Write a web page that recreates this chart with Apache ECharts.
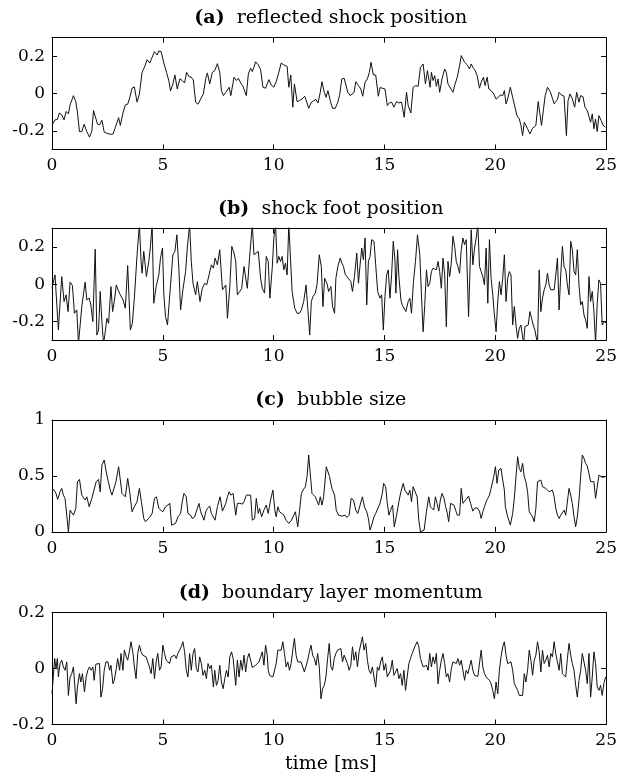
<!DOCTYPE html>
<html><head><meta charset="utf-8">
<script src="https://cdn.jsdelivr.net/npm/echarts@6/dist/echarts.min.js"></script>
<style>html,body{margin:0;padding:0;background:#fff}#c{width:620px;height:781px}</style>
</head><body><div id="c"></div>
<script>
const timeTicks = [0, 5, 10, 15, 20, 25];
const panelLabels = ['(a)', '(b)', '(c)', '(d)'];
const panelNames = ['reflected shock position', 'shock foot position', 'bubble size', 'boundary layer momentum'];
const xAxisName = 'time [ms]';
const yTicksA = [-0.2, 0, 0.2];
const yTicksB = [-0.2, 0, 0.2];
const yTicksC = [0, 0.5, 1];
const yTicksD = [-0.2, 0, 0.2];
const yRanges = [[-0.3, 0.3], [-0.3, 0.3], [0, 1], [-0.2, 0.2]];

const shockPosition = [[0,-0.168],[0.136,-0.141],[0.242,-0.139],[0.332,-0.104],[0.438,-0.114],[0.544,-0.141],[0.634,-0.096],[0.740,-0.109],[0.816,-0.061],[0.967,-0.011],[1.073,-0.043],[1.148,-0.100],[1.239,-0.204],[1.344,-0.204],[1.450,-0.164],[1.571,-0.204],[1.692,-0.234],[1.798,-0.200],[1.873,-0.091],[1.949,-0.091],[2.054,-0.164],[2.145,-0.168],[2.251,-0.143],[2.356,-0.207],[2.477,-0.213],[2.628,-0.218],[2.749,-0.218],[2.855,-0.182],[3.006,-0.129],[3.082,-0.171],[3.202,-0.104],[3.308,-0.061],[3.414,-0.057],[3.505,-0.023],[3.610,0.029],[3.716,0.036],[3.837,-0.046],[3.943,-0.002],[4.063,0.114],[4.169,0.141],[4.290,0.182],[4.411,0.164],[4.517,0.195],[4.622,0.225],[4.743,0.207],[4.819,0.229],[4.924,0.225],[5.045,0.164],[5.166,0.114],[5.272,0.068],[5.347,0.014],[5.453,0.052],[5.544,0.100],[5.650,0.025],[5.770,0.079],[5.876,0.070],[5.982,0.057],[6.073,0.114],[6.178,0.091],[6.284,0.088],[6.375,0.073],[6.480,-0.046],[6.586,-0.057],[6.707,-0.029],[6.828,-0.002],[6.934,0.079],[7.009,0.111],[7.115,0.052],[7.236,0.114],[7.341,0.123],[7.462,0.161],[7.568,0.114],[7.644,0.016],[7.734,-0.011],[7.840,0.007],[7.915,0.014],[7.991,0.034],[8.066,-0.011],[8.172,0.061],
[8.213,0.088],[8.318,0.070],[8.408,0.082],[8.513,0.057],[8.617,0.039],[8.707,0.043],[8.767,-0.011],[8.857,0.105],[8.961,0.136],[9.036,0.118],[9.111,0.141],[9.186,0.171],[9.306,0.154],[9.410,0.129],[9.515,0.034],[9.635,0.029],[9.710,0.052],[9.784,0.075],[9.889,0.046],[10.009,0.034],[10.113,0.064],[10.233,0.114],[10.338,0.164],[10.458,0.154],[10.607,0.146],[10.682,0.034],[10.772,0.100],[10.862,-0.073],[10.936,0.052],[11.056,-0.043],[11.161,-0.038],[11.280,-0.029],[11.400,-0.014],[11.505,-0.050],[11.580,-0.079],[11.684,-0.050],[11.804,-0.038],[11.909,-0.032],[11.999,-0.050],[12.103,0.007],[12.178,0.064],[12.283,0.007],[12.358,-0.020],[12.447,0.016],[12.552,-0.038],[12.657,-0.079],[12.777,-0.079],[12.881,-0.050],[12.971,-0.011],[13.076,0.079],[13.180,0.082],[13.255,0.082],[13.345,0.007],[13.450,-0.011],[13.525,-0.002],[13.629,0.007],[13.704,0.064],[13.824,0.043],[13.929,0.025],[14.018,-0.014],[14.123,0.061],[14.228,0.079],[14.317,0.114],[14.392,0.168],[14.497,0.100],[14.602,0.100],[14.721,-0.014],[14.796,0.032],[14.901,0.029],[15.021,0.025],[15.126,-0.064],[15.215,-0.050],[15.320,-0.046],[15.425,-0.073],[15.544,-0.043],[15.649,-0.050],[15.769,-0.046],[15.888,-0.127],[15.993,0.007],[16.068,-0.064],[16.188,-0.104],[16.292,0.034],[16.397,0.043],[16.517,0.039],[16.622,0.141],[16.741,0.159],
[16.846,0.052],[16.936,0.123],[17.056,0.034],[17.115,0.114],[17.190,0.070],[17.265,0.096],[17.340,0.039],[17.415,0.079],[17.489,0.007],[17.594,0.079],[17.714,0.132],[17.789,0.114],[17.863,0.052],[17.938,0.057],[18.088,0.007],[18.163,0.043],[18.282,0.088],[18.387,0.150],[18.462,0.204],[18.537,0.207],[18.612,0.168],[18.731,0.154],[18.836,0.132],[18.911,0.159],[18.986,0.141],[19.090,0.123],[19.180,0.096],[19.285,0.029],[19.360,0.061],[19.464,0.088],[19.539,0.043],[19.629,0.088],[19.704,0.025],[19.808,0.016],[19.928,-0.002],[20.033,-0.029],[20.138,-0.020],[20.227,-0.007],[20.332,-0.011],[20.407,0.016],[20.482,-0.055],[20.556,-0.029],[20.676,0.034],[20.781,-0.020],[20.886,-0.073],[20.975,-0.118],[21.080,-0.136],[21.155,-0.171],[21.230,-0.225],[21.305,-0.154],[21.379,-0.171],[21.454,-0.189],[21.559,-0.216],[21.679,-0.186],[21.754,-0.189],[21.828,-0.171],[21.933,-0.043],[22.083,-0.171],[22.173,-0.082],[22.247,-0.011],[22.352,0.034],[22.472,0.011],[22.576,-0.025],[22.651,-0.055],[22.726,-0.064],[22.801,-0.032],[22.876,0.007],[22.980,-0.007],[23.100,-0.014],[23.205,-0.225],[23.280,-0.038],[23.369,-0.002],[23.474,-0.029],[23.579,-0.073],[23.668,0.007],[23.773,-0.046],[23.848,-0.011],[23.953,-0.016],[24.043,-0.073],[24.147,-0.091],[24.222,-0.086],[24.297,-0.154],[24.372,-0.109],[24.447,-0.189],[24.521,-0.136],[24.596,-0.204],[24.671,-0.118],[24.776,-0.145],[24.865,-0.171],[24.970,-0.180]];

const shockFoot = [[0,-0.022],[0.136,0.050],[0.287,-0.246],[0.438,0.041],[0.544,-0.093],[0.634,-0.057],[0.725,-0.147],[0.816,0.011],[0.921,-0.007],[1.012,-0.156],[1.118,-0.138],[1.193,-0.32],[1.269,-0.32],[1.344,-0.120],[1.495,0.011],[1.571,-0.084],[1.677,-0.075],[1.752,-0.111],[1.843,-0.201],[1.949,0.188],[2.024,-0.273],[2.100,-0.246],[2.175,-0.039],[2.251,-0.201],[2.326,-0.32],[2.402,-0.255],[2.477,-0.183],[2.553,-0.210],[2.659,-0.013],[2.734,-0.147],[2.810,-0.093],[2.900,-0.004],[2.976,-0.030],[3.082,-0.057],[3.202,-0.084],[3.308,-0.129],[3.414,0.100],[3.535,-0.246],[3.625,-0.210],[3.716,-0.075],[3.837,0.158],[3.943,0.32],[4.018,0.122],[4.063,0.059],[4.139,0.176],[4.260,0.041],[4.366,0.122],[4.441,0.203],[4.517,0.32],[4.592,-0.102],[4.698,-0.013],[4.819,0.050],[4.894,0.140],[4.985,0.194],[5.045,-0.057],[5.121,-0.174],[5.211,-0.219],[5.347,-0.004],[5.453,0.158],[5.544,0.176],[5.634,0.265],[5.725,0.077],[5.801,-0.138],[5.906,-0.030],[6.027,0.068],[6.103,0.194],[6.208,0.32],[6.284,0.122],[6.360,0.005],[6.480,-0.057],[6.556,0.014],[6.677,-0.093],[6.782,-0.022],[6.888,0.005],[6.979,-0.004],[7.085,0.050],[7.190,0.104],[7.281,0.086],[7.356,0.140],[7.462,0.104],[7.568,0.185],[7.689,-0.030],[7.764,-0.022],[7.840,-0.004],[7.915,-0.183],[8.021,-0.013],[8.112,0.203],
[8.213,0.167],[8.288,0.122],[8.363,-0.057],[8.468,-0.039],[8.558,-0.022],[8.662,0.095],[8.737,0.104],[8.812,-0.022],[8.917,0.149],[9.036,0.32],[9.111,0.158],[9.186,0.167],[9.306,0.176],[9.410,0.032],[9.485,-0.022],[9.590,-0.048],[9.665,0.149],[9.754,0.122],[9.829,-0.075],[9.934,0.086],[10.009,0.248],[10.084,0.32],[10.158,0.113],[10.233,0.149],[10.308,0.122],[10.383,0.149],[10.458,0.077],[10.532,0.113],[10.607,0.050],[10.682,0.32],[10.757,0.140],[10.832,-0.039],[10.951,-0.129],[11.056,-0.156],[11.161,-0.156],[11.251,-0.138],[11.355,-0.093],[11.460,-0.004],[11.550,-0.147],[11.625,-0.273],[11.699,-0.093],[11.774,-0.066],[11.879,-0.048],[11.954,-0.004],[12.058,0.158],[12.148,0.095],[12.223,-0.120],[12.298,0.032],[12.403,0.005],[12.478,-0.039],[12.582,-0.013],[12.657,-0.120],[12.747,-0.156],[12.806,0.032],[12.896,0.095],[13.001,0.140],[13.076,0.113],[13.150,0.095],[13.225,0.054],[13.300,0.041],[13.480,0.014],[13.555,-0.039],[13.644,0.041],[13.749,0.167],[13.824,0.005],[13.899,0.104],[13.973,0.194],[14.048,0.131],[14.123,0.248],[14.198,-0.111],[14.273,0.122],[14.348,0.149],[14.422,0.239],[14.527,0.230],[14.602,0.104],[14.691,-0.039],[14.796,-0.075],[14.871,-0.057],[14.946,-0.246],[15.021,-0.066],[15.096,0.050],[15.170,0.077],[15.245,-0.075],[15.320,0.050],[15.395,0.230],[15.470,0.131],[15.514,-0.048],[15.589,0.185],[15.649,0.041],[15.739,-0.084],[15.799,-0.111],[15.888,-0.102],[15.963,-0.147],[16.068,-0.093],[16.143,-0.075],[16.218,-0.156],[16.307,0.014],[16.397,0.122],[16.487,0.265],[16.592,0.158],
[16.667,-0.057],[16.741,-0.255],[16.816,-0.111],[16.891,0.077],[16.966,-0.013],[17.041,0.005],[17.115,0.068],[17.190,0.086],[17.265,0.083],[17.340,0.077],[17.415,0.122],[17.489,0.068],[17.564,-0.022],[17.639,0.140],[17.714,0.050],[17.789,-0.228],[17.863,0.122],[17.938,0.041],[18.013,0.113],[18.088,0.257],[18.163,0.203],[18.238,0.122],[18.312,0.095],[18.387,0.059],[18.462,0.185],[18.537,0.248],[18.612,0.212],[18.686,0.239],[18.791,-0.174],[18.911,0.292],[18.986,0.104],[19.060,0.194],[19.135,0.248],[19.210,0.32],[19.285,0.095],[19.360,0.068],[19.434,0.041],[19.509,-0.004],[19.584,0.194],[19.659,-0.102],[19.734,0.239],[19.808,0.032],[19.883,-0.057],[19.958,-0.165],[20.033,-0.255],[20.108,-0.093],[20.183,0.014],[20.257,-0.057],[20.332,0.032],[20.407,0.158],[20.482,-0.093],[20.556,0.032],[20.631,0.068],[20.706,0.050],[20.781,-0.219],[20.856,-0.120],[20.931,-0.219],[21.005,-0.291],[21.080,-0.237],[21.155,-0.219],[21.275,-0.32],[21.334,-0.228],[21.409,-0.237],[21.484,-0.219],[21.559,-0.147],[21.634,-0.183],[21.708,-0.219],[21.783,-0.246],[21.903,-0.32],[21.978,0.077],[22.053,-0.147],[22.127,-0.075],[22.202,-0.030],[22.277,-0.004],[22.352,0.059],[22.427,-0.004],[22.501,-0.030],[22.576,-0.039],[22.651,-0.030],[22.726,0.050],[22.801,0.140],[22.876,-0.138],[22.950,0.050],[23.025,0.203],[23.100,0.095],[23.175,0.077],[23.250,-0.004],[23.324,-0.057],[23.399,0.230],[23.474,0.185],[23.549,0.068],[23.624,0.050],[23.698,0.185],[23.773,-0.004],[23.848,-0.111],[23.923,-0.093],[23.998,-0.165],[24.072,-0.192],[24.147,-0.237],[24.222,0.041],[24.297,-0.093],[24.372,-0.039],[24.447,-0.147],[24.521,-0.32],[24.596,-0.102],[24.671,0.023],[24.746,0.005],[24.821,-0.219],[24.925,-0.201],[25.0,-0.210]];

const bubbleSize = [[0,0.388],[0.091,0.373],[0.181,0.343],[0.257,0.290],[0.363,0.358],[0.438,0.388],[0.514,0.328],[0.589,0.299],[0.665,0.299],[0.740,0.000],[0.816,0.194],[0.967,0.149],[1.073,0.209],[1.148,0.448],[1.239,0.469],[1.344,0.328],[1.420,0.313],[1.495,0.284],[1.571,0.313],[1.677,0.224],[1.798,0.299],[1.873,0.358],[1.994,0.448],[2.100,0.469],[2.175,0.358],[2.251,0.597],[2.356,0.642],[2.432,0.552],[2.523,0.463],[2.628,0.373],[2.704,0.328],[2.779,0.313],[2.885,0.448],[3.006,0.582],[3.082,0.463],[3.157,0.343],[3.233,0.328],[3.308,0.313],[3.414,0.478],[3.505,0.358],[3.610,0.179],[3.716,0.224],[3.837,0.269],[3.943,0.388],[4.033,0.269],[4.139,0.119],[4.215,0.090],[4.290,0.104],[4.396,0.128],[4.517,0.164],[4.622,0.299],[4.713,0.313],[4.819,0.209],[4.894,0.224],[5.000,0.179],[5.121,0.224],[5.196,0.239],[5.317,0.254],[5.393,0.060],[5.468,0.075],[5.574,0.075],[5.680,0.134],[5.801,0.164],[5.876,0.269],[5.952,0.343],[6.057,0.313],[6.133,0.164],[6.254,0.149],[6.329,0.119],[6.435,0.134],[6.556,0.209],[6.631,0.254],[6.707,0.179],[6.858,0.104],[6.934,0.179],[7.009,0.209],[7.115,0.230],[7.190,0.164],[7.356,0.104],[7.462,0.224],[7.583,0.313],[7.689,0.185],[7.840,0.254],[7.915,0.313],[7.991,0.358],[8.066,0.328],[8.172,0.343],
[8.213,0.269],[8.288,0.149],[8.363,0.254],[8.468,0.254],[8.587,0.248],[8.662,0.269],[8.767,0.328],[8.857,0.343],[8.961,0.328],[9.036,0.104],[9.141,0.119],[9.216,0.299],[9.306,0.164],[9.365,0.209],[9.455,0.134],[9.560,0.194],[9.665,0.239],[9.754,0.164],[9.859,0.284],[9.964,0.373],[10.053,0.194],[10.113,0.134],[10.188,0.224],[10.263,0.179],[10.353,0.164],[10.458,0.149],[10.562,0.104],[10.682,0.075],[10.802,0.104],[10.906,0.149],[10.981,0.179],[11.086,0.045],[11.161,0.179],[11.251,0.343],[11.325,0.373],[11.430,0.403],[11.505,0.493],[11.580,0.687],[11.655,0.507],[11.729,0.343],[11.804,0.343],[11.879,0.313],[11.954,0.299],[12.029,0.239],[12.103,0.313],[12.178,0.239],[12.253,0.313],[12.373,0.582],[12.447,0.567],[12.522,0.493],[12.627,0.388],[12.747,0.328],[12.822,0.194],[12.926,0.149],[13.001,0.149],[13.076,0.140],[13.225,0.149],[13.300,0.128],[13.405,0.149],[13.495,0.299],[13.599,0.284],[13.704,0.194],[13.794,0.164],[13.899,0.239],[14.003,0.313],[14.093,0.224],[14.198,0.179],[14.273,0.119],[14.348,0.015],[14.422,0.060],[14.527,0.134],[14.602,0.164],[14.691,0.179],[14.796,0.254],[14.901,0.343],[14.961,0.433],[15.051,0.403],[15.126,0.254],[15.200,0.149],[15.275,0.194],[15.365,0.239],[15.440,0.045],[15.544,0.149],[15.649,0.269],[15.739,0.358],[15.843,0.433],[15.918,0.373],[15.993,0.373],[16.068,0.328],[16.143,0.373],[16.218,0.269],[16.292,0.403],[16.367,0.388],[16.472,0.313],[16.547,0.104],[16.622,0.000],
[16.697,0.000],[16.786,0.015],[16.891,0.179],[16.996,0.313],[17.071,0.224],[17.145,0.209],[17.220,0.194],[17.295,0.313],[17.370,0.254],[17.445,0.185],[17.519,0.284],[17.594,0.343],[17.684,0.299],[17.759,0.224],[17.834,0.164],[17.893,0.090],[17.983,0.254],[18.058,0.254],[18.133,0.239],[18.208,0.194],[18.282,0.149],[18.387,0.149],[18.462,0.388],[18.537,0.254],[18.612,0.269],[18.716,0.299],[18.791,0.319],[18.881,0.254],[18.986,0.185],[19.060,0.209],[19.180,0.215],[19.285,0.185],[19.360,0.119],[19.434,0.179],[19.509,0.224],[19.584,0.269],[19.659,0.299],[19.734,0.328],[19.808,0.388],[19.928,0.493],[20.003,0.582],[20.078,0.433],[20.153,0.552],[20.257,0.567],[20.332,0.463],[20.407,0.373],[20.452,0.224],[20.556,0.134],[20.676,0.060],[20.781,0.164],[20.856,0.299],[20.931,0.493],[21.005,0.672],[21.080,0.567],[21.155,0.537],[21.230,0.612],[21.305,0.493],[21.379,0.448],[21.454,0.358],[21.529,0.179],[21.604,0.179],[21.679,0.134],[21.754,0.090],[21.828,0.209],[21.903,0.448],[21.978,0.433],[22.053,0.463],[22.127,0.403],[22.202,0.409],[22.277,0.388],[22.352,0.379],[22.427,0.358],[22.501,0.343],[22.576,0.373],[22.651,0.313],[22.726,0.209],[22.801,0.149],[22.876,0.119],[22.950,0.149],[23.025,0.164],[23.100,0.194],[23.175,0.149],[23.250,0.134],[23.324,0.388],[23.399,0.328],[23.474,0.254],[23.549,0.134],[23.624,0.045],[23.698,0.134],[23.773,0.284],[23.848,0.493],[23.923,0.687],[23.998,0.657],[24.072,0.612],[24.147,0.588],[24.222,0.522],[24.297,0.448],[24.372,0.433],[24.447,0.448],[24.521,0.299],[24.596,0.313],[24.671,0.507],[24.746,0.493],[24.821,0.487],[24.970,0.493]];

const boundaryMomentum = [[0,-0.090],[0.121,0.036],[0.181,0.000],[0.242,0.036],[0.287,-0.030],[0.363,0.018],[0.438,0.030],[0.514,0.006],[0.589,-0.006],[0.665,0.024],[0.740,-0.096],[0.816,-0.030],[0.891,-0.018],[0.967,0.006],[1.088,-0.126],[1.148,-0.066],[1.239,-0.018],[1.299,-0.048],[1.375,-0.018],[1.465,-0.084],[1.541,-0.030],[1.616,-0.006],[1.692,0.006],[1.767,-0.006],[1.843,0.006],[1.903,-0.042],[1.979,0.016],[2.054,0.020],[2.145,0.018],[2.205,-0.102],[2.281,-0.072],[2.356,-0.006],[2.432,0.024],[2.523,0.024],[2.598,-0.006],[2.659,0.012],[2.749,-0.054],[2.810,-0.042],[2.900,0.000],[2.961,0.036],[3.051,-0.006],[3.112,0.054],[3.202,-0.006],[3.263,0.066],[3.353,0.042],[3.414,0.030],[3.489,0.060],[3.565,0.096],[3.656,0.054],[3.716,0.006],[3.792,-0.036],[3.867,0.054],[3.943,0.084],[4.018,0.060],[4.094,0.048],[4.169,0.054],[4.245,0.042],[4.320,0.024],[4.396,0.006],[4.471,-0.018],[4.547,0.036],[4.622,-0.036],[4.698,0.024],[4.773,0.054],[4.849,-0.006],[4.924,0.006],[5.000,0.084],[5.076,0.054],[5.151,0.030],[5.227,0.036],[5.302,0.018],[5.378,0.042],[5.453,0.040],[5.529,0.048],[5.604,0.036],[5.680,0.054],[5.755,0.066],[5.831,0.078],[5.906,0.096],[5.982,0.060],[6.057,-0.006],[6.133,-0.030],[6.208,0.054],[6.284,-0.006],[6.360,0.054],[6.435,0.072],[6.511,0.000],[6.586,-0.012],[6.662,0.042],[6.737,0.018],[6.813,-0.024],[6.888,-0.006],[6.964,-0.036],[7.039,0.018],[7.115,0.000],[7.190,0.012],[7.281,-0.066],[7.341,-0.006],[7.417,-0.060],[7.492,-0.042],[7.568,0.012],[7.644,-0.048],[7.719,-0.072],[7.795,-0.036],[7.870,-0.006],[7.946,-0.030],[8.021,0.042],[8.097,0.060],[8.172,0.036],
[8.288,-0.060],[8.363,0.030],[8.438,-0.030],[8.513,0.030],[8.587,-0.006],[8.662,0.048],[8.737,-0.012],[8.812,0.036],[8.887,0.054],[8.961,0.054],[9.036,0.004],[9.111,0.006],[9.186,0.012],[9.261,0.018],[9.336,0.024],[9.410,0.042],[9.485,0.060],[9.560,0.012],[9.635,0.084],[9.710,0.048],[9.754,-0.006],[9.814,-0.024],[9.889,-0.030],[9.964,-0.030],[10.039,-0.024],[10.113,0.018],[10.188,0.066],[10.263,0.072],[10.338,0.066],[10.413,0.096],[10.488,0.054],[10.562,0.006],[10.637,0.024],[10.712,-0.006],[10.787,0.018],[10.862,0.066],[10.936,0.108],[11.011,0.048],[11.086,0.024],[11.161,0.030],[11.236,0.024],[11.310,0.020],[11.385,-0.012],[11.460,-0.018],[11.535,0.030],[11.610,0.060],[11.684,0.084],[11.759,0.048],[11.834,0.036],[11.909,0.012],[11.984,0.054],[12.058,0.006],[12.133,-0.108],[12.208,-0.072],[12.283,-0.060],[12.358,-0.030],[12.433,0.036],[12.507,0.090],[12.582,0.006],[12.657,-0.006],[12.732,0.036],[12.806,0.054],[12.881,0.066],[12.956,0.072],[13.031,0.072],[13.106,0.024],[13.180,0.048],[13.255,0.054],[13.330,0.018],[13.405,-0.006],[13.480,0.012],[13.555,0.078],[13.629,0.030],[13.704,0.060],[13.779,0.006],[13.854,0.060],[13.929,0.054],[14.003,0.114],[14.078,0.066],[14.153,0.090],[14.228,0.030],[14.303,-0.006],[14.377,-0.018],[14.452,0.006],[14.527,-0.030],[14.602,-0.066],[14.677,0.006],[14.751,-0.006],[14.826,0.024],[14.901,0.042],[14.976,-0.006],[15.051,0.018],[15.126,-0.030],[15.200,-0.036],[15.275,-0.006],[15.350,0.030],[15.425,-0.024],[15.500,-0.030],[15.574,0.000],[15.649,-0.036],[15.724,-0.018],[15.799,-0.060],[15.874,-0.006],[15.948,-0.078],[16.023,-0.030],[16.098,0.018],[16.173,0.036],[16.248,0.054],[16.322,0.054],[16.397,0.084],[16.472,0.096],[16.547,0.078],[16.622,0.036],[16.697,0.042],
[16.741,0.006],[16.816,0.000],[16.891,0.012],[16.966,-0.006],[17.041,0.054],[17.115,0.006],[17.190,0.042],[17.265,0.018],[17.340,0.054],[17.415,-0.054],[17.489,-0.006],[17.564,0.030],[17.639,0.054],[17.714,0.018],[17.789,-0.030],[17.863,-0.018],[17.938,-0.048],[18.013,0.000],[18.088,0.024],[18.163,0.030],[18.238,0.018],[18.312,0.036],[18.387,0.012],[18.462,0.030],[18.537,-0.006],[18.612,-0.042],[18.686,-0.006],[18.761,-0.018],[18.836,0.006],[18.911,0.030],[18.986,-0.006],[19.060,-0.024],[19.135,-0.030],[19.210,-0.028],[19.285,-0.024],[19.360,0.066],[19.434,0.006],[19.509,-0.018],[19.584,-0.030],[19.659,-0.036],[19.734,-0.042],[19.808,-0.054],[19.883,-0.078],[19.958,-0.108],[20.033,-0.048],[20.108,-0.090],[20.183,-0.006],[20.257,0.042],[20.332,0.078],[20.407,0.096],[20.482,0.048],[20.556,0.018],[20.631,0.012],[20.706,0.024],[20.781,-0.006],[20.856,-0.054],[20.931,-0.060],[21.005,-0.078],[21.080,-0.096],[21.155,-0.102],[21.230,-0.096],[21.305,-0.018],[21.379,-0.048],[21.454,-0.006],[21.529,0.066],[21.604,0.030],[21.679,-0.024],[21.754,0.030],[21.828,0.048],[21.903,0.096],[21.978,0.060],[22.053,-0.012],[22.127,0.066],[22.202,0.018],[22.277,0.030],[22.352,0.048],[22.427,0.006],[22.501,0.054],[22.576,0.042],[22.651,0.096],[22.726,0.054],[22.801,0.024],[22.876,-0.006],[22.950,0.054],[23.025,-0.018],[23.100,-0.012],[23.175,-0.030],[23.250,0.036],[23.324,0.090],[23.399,0.048],[23.474,0.018],[23.549,-0.006],[23.624,-0.060],[23.698,-0.102],[23.773,-0.042],[23.848,-0.006],[23.923,0.054],[23.998,0.024],[24.072,-0.006],[24.147,-0.054],[24.222,0.054],[24.297,-0.102],[24.372,-0.030],[24.447,0.060],[24.521,0.018],[24.596,-0.066],[24.671,-0.078],[24.746,-0.060],[24.821,-0.096],[24.896,-0.054],[24.970,-0.030]];

const seriesData = [shockPosition, shockFoot, bubbleSize, boundaryMomentum];
const yTickSets = [yTicksA, yTicksB, yTicksC, yTicksD];

const FONT = 'DejaVu Serif';
const gridTops = [37.7, 228.3, 420, 612.7];
const gridH = 111.8, gridL = 52, gridW = 557.5;

const grids = [], xAxes = [], yAxes = [], series = [], graphics = [];
for (let i = 0; i < 4; i++) {
  grids.push({ left: gridL, top: gridTops[i], width: gridW, height: gridH, containLabel: false });
  const xBase = {
    gridIndex: i, type: 'value', min: timeTicks[0], max: timeTicks[timeTicks.length - 1],
    interval: timeTicks[1] - timeTicks[0],
    axisLine: { show: true, onZero: false, lineStyle: { color: '#000', width: 1 } },
    axisTick: { show: true, inside: true, length: 5, lineStyle: { color: '#000', width: 1 } },
    splitLine: { show: false }
  };
  xAxes.push(Object.assign({}, xBase, { position: 'bottom',
    axisLabel: { show: true, color: '#000', fontFamily: FONT, fontSize: 17, margin: 8 } }));
  xAxes.push(Object.assign({}, xBase, { position: 'top', axisLabel: { show: false } }));
  const ticks = yTickSets[i];
  const yBase = {
    gridIndex: i, type: 'value', min: yRanges[i][0], max: yRanges[i][1],
    axisLine: { show: true, onZero: false, lineStyle: { color: '#000', width: 1 } },
    axisTick: { show: true, inside: true, length: 5, customValues: ticks, lineStyle: { color: '#000', width: 1 } },
    splitLine: { show: false }
  };
  yAxes.push(Object.assign({}, yBase, { position: 'left',
    axisLabel: { show: true, customValues: ticks, color: '#000', fontFamily: FONT, fontSize: 17, margin: 7 } }));
  yAxes.push(Object.assign({}, yBase, { position: 'right', axisLabel: { show: false } }));
  series.push({
    type: 'line', xAxisIndex: 2 * i, yAxisIndex: 2 * i, data: seriesData[i],
    showSymbol: false, symbol: 'none', clip: true, animation: false,
    lineStyle: { color: '#111', width: 1 }
  });
  graphics.push({
    type: 'text', x: gridL + gridW / 2, y: gridTops[i] - 19.5,
    style: {
      text: '{b|' + panelLabels[i] + '}  ' + panelNames[i],
      rich: { b: { fontWeight: 'bold', fontFamily: FONT, fontSize: 19, fill: '#000' } },
      fontFamily: FONT, fontSize: 19, fill: '#000', align: 'center', verticalAlign: 'middle'
    }
  });
}
graphics.push({
  type: 'text', x: gridL + gridW / 2, y: 764,
  style: { text: xAxisName, fontFamily: FONT, fontSize: 19, fill: '#000', align: 'center', verticalAlign: 'middle' }
});

const chart = echarts.init(document.getElementById('c'), null, { renderer: 'canvas' });
chart.setOption({
  animation: false,
  backgroundColor: '#fff',
  grid: grids, xAxis: xAxes, yAxis: yAxes, series: series, graphic: graphics
});
</script></body></html>
